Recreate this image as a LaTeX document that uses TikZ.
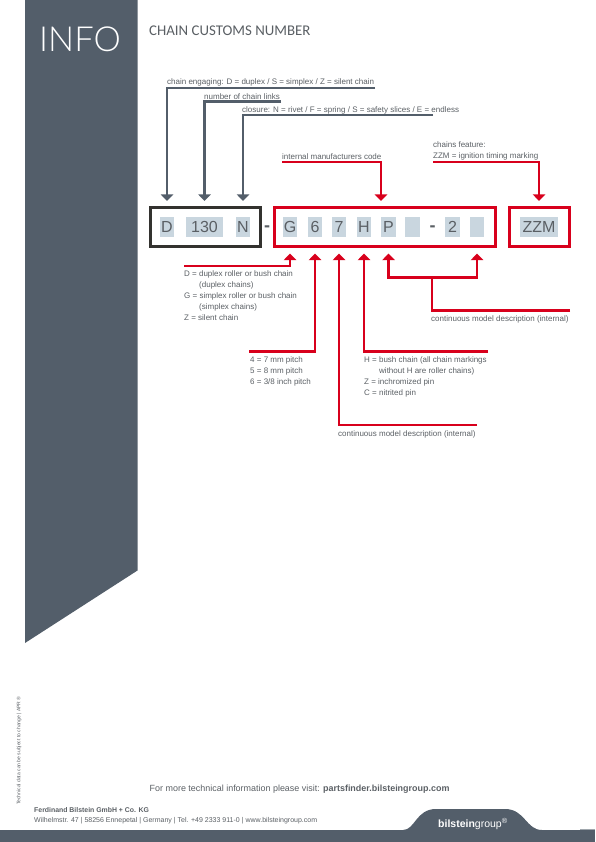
\documentclass[tikz,border=0pt]{standalone}
\usepackage{fontspec}
\setmainfont{Liberation Sans}
\newfontfamily\titlefont{Carlito}
\newfontfamily\infofont{Lato Light}
\usepackage{xcolor}
\usetikzlibrary{arrows.meta,positioning}
\definecolor{slate}{HTML}{535E6A}
\definecolor{signalred}{HTML}{D8001C}
\definecolor{cellblue}{HTML}{C9D6DF}
\definecolor{boxblack}{HTML}{33322F}
\definecolor{copygrey}{HTML}{5A5F64}

\begin{document}
\begin{tikzpicture}[x=1pt, y=-1pt,
    every node/.style={inner sep=0pt, text=copygrey},
    note/.style={anchor=west, font=\fontsize{8}{11}\selectfont},
    notelist/.style={anchor=north west, align=left, font=\fontsize{8}{11}\selectfont},
    cellbox/.style={fill=cellblue, minimum height=20pt, minimum width=14.5pt, font=\fontsize{16}{18}\selectfont},
    dashmark/.style={font=\bfseries\fontsize{18}{18}\selectfont},
    greybox/.style={draw=boxblack, line width=3pt, minimum height=39.5pt},
    redbox/.style={draw=signalred, line width=3pt, minimum height=39.5pt},
    greyarrow/.style={draw=slate, line width=2.4pt, -{Triangle[width=12.5pt,length=6.5pt]}},
    redarrow/.style={draw=signalred, line width=2.4pt, -{Triangle[width=12.5pt,length=6.5pt]}},
    upshort/.style={shorten >=16pt}
]
    \useasboundingbox (0,0) rectangle (595,842);

    % Side panel and footer bar
    \fill[slate] (25,0) -- (137.5,0) -- (137.5,570.5) -- (25,643) -- cycle;
    \fill[slate] (0,830) rectangle (595,842);
    \fill[slate!55] (580,829.2) rectangle (595,830);
    \fill[slate] (403,830) .. controls (415,830) and (416,809) .. (436,809) -- (505,809)
        .. controls (525,809) and (526,830) .. (542,830) -- cycle;

    \node[anchor=west, text=white, font=\infofont\fontsize{34.5}{34}\selectfont] (infoTitle) at (39,39.5) {INFO};
    \node[anchor=west, font=\titlefont\fontsize{14.85}{16}\selectfont] (pageTitle) at (149,30.5) {CHAIN CUSTOMS NUMBER};

    % Frames round the number
    \node[greybox, minimum width=110pt] (enginePart) at (205,227) {};
    \node[redbox, minimum width=221pt] (codePart) at (385,227) {};
    \node[redbox, minimum width=59.5pt] (featurePart) at (539.5,227) {};

    % Number cells
    \node[cellbox] (cellD) at (167,227) {D};
    \node[cellbox, minimum width=37pt] (cellLinks) at (204.5,227) {130};
    \node[cellbox] (cellN) at (243,227) {N};
    \node[dashmark] (dashOne) at (267,229) {-};
    \node[cellbox] (cellG) at (290,227) {G};
    \node[cellbox] (cellPitch) at (315,227) {6};
    \node[cellbox] (cellSeven) at (339,227) {7};
    \node[cellbox] (cellH) at (364,227) {H};
    \node[cellbox] (cellP) at (388.5,227) {P};
    \node[cellbox] (cellBlankA) at (412.5,227) {};
    \node[dashmark] (dashTwo) at (432.5,229) {-};
    \node[cellbox] (cellTwo) at (452.5,227) {2};
    \node[cellbox] (cellBlankB) at (477,227) {};
    \node[cellbox, minimum width=38pt] (cellZZM) at (539,227) {ZZM};

    % Labels above
    \node[note] (noteEngage) at (167,82.5) {chain engaging: D = duplex / S = simplex / Z = silent chain};
    \node[note] (noteLinks) at (204,96.5) {number of chain links};
    \node[note] (noteClosure) at (242,110.5) {closure: N = rivet / F = spring / S = safety slices / E = endless};
    \node[note] (noteCode) at (282,157) {internal manufacturers code};
    \node[notelist] (noteFeature) at (433,142) {chains feature:\\ZZM = ignition timing marking};

    % Labels below
    \node[notelist] (noteType) at (184,270.5) {D = duplex roller or bush chain\\\hspace*{15pt}(duplex chains)\\G = simplex roller or bush chain\\\hspace*{15pt}(simplex chains)\\Z = silent chain};
    \node[notelist] (notePitch) at (250,356.5) {4 = 7 mm pitch\\5 = 8 mm pitch\\6 = 3/8 inch pitch};
    \node[notelist] (noteBush) at (364,356.5) {H = bush chain (all chain markings\\\hspace*{15pt}without H are roller chains)\\Z = inchromized pin\\C = nitrited pin};
    \node[note] (noteModelLeft) at (338,434) {continuous model description (internal)};
    \node[note] (noteModelRight) at (431,319) {continuous model description (internal)};

    % Free ends of the connectors
    \coordinate (engageEnd) at (375,88);
    \coordinate (linksEnd) at (281,101.5);
    \coordinate (closureEnd) at (433,115);
    \coordinate (codeStart) at (282,162);
    \coordinate (codeTip) at (381,201);
    \coordinate (featureStart) at (433,162);
    \coordinate (typeStart) at (184,266);
    \coordinate (pitchStart) at (249,351.5);
    \coordinate (modelStart) at (477,425);
    \coordinate (bushStart) at (488,351.5);
    \coordinate (serialStart) at (570,310.5);
    \coordinate (serialFork) at (432,277.5);

    % Grey connectors
    \draw[greyarrow, upshort] (engageEnd) -| (cellD.north);
    \draw[greyarrow, upshort] (linksEnd) -| (cellLinks.north);
    \draw[greyarrow, upshort] (closureEnd) -| (cellN.north);

    % Red connectors, top
    \draw[redarrow] (codeStart) -| (codeTip);
    \draw[redarrow, upshort] (featureStart) -| (cellZZM.north);

    % Red connectors, bottom
    \draw[redarrow, shorten >=16.5pt] (typeStart) -| (cellG.south);
    \draw[redarrow, shorten >=16.5pt] (pitchStart) -| (cellPitch.south);
    \draw[redarrow, shorten >=16.5pt] (modelStart) -| (cellSeven.south);
    \draw[redarrow, shorten >=16.5pt] (bushStart) -| (cellH.south);
    \draw[draw=signalred, line width=2.4pt] (serialStart) -| (serialFork);
    \draw[redarrow, shorten >=16.5pt] (serialFork) -| (cellP.south);
    \draw[redarrow, shorten >=16.5pt] (serialFork) -| (cellBlankB.south);

    % Footer
    \node[anchor=west, font=\fontsize{8.95}{10}\selectfont] (visitLine) at (149.5,789) {For more technical information please visit: \textbf{partsfinder.bilsteingroup.com}};
    \node[anchor=west, font=\bfseries\fontsize{6.9}{8}\selectfont] (firmName) at (34,810.5) {Ferdinand Bilstein GmbH + Co. KG};
    \node[anchor=west, font=\fontsize{7}{8}\selectfont] (firmAddress) at (34,821) {Wilhelmstr. 47 | 58256 Ennepetal | Germany | Tel. +49 2333 911-0 | www.bilsteingroup.com};
    \node[anchor=west, rotate=90, font=\fontsize{5}{5}\selectfont] (dataNote) at (19,805) {Technical data can be subject to change | APR ®};
    \node[anchor=west, text=white, font=\fontsize{10.5}{10}\selectfont] (logoText) at (438,824) {\textbf{bilstein}group\textsuperscript{®}};
\end{tikzpicture}
\end{document}
